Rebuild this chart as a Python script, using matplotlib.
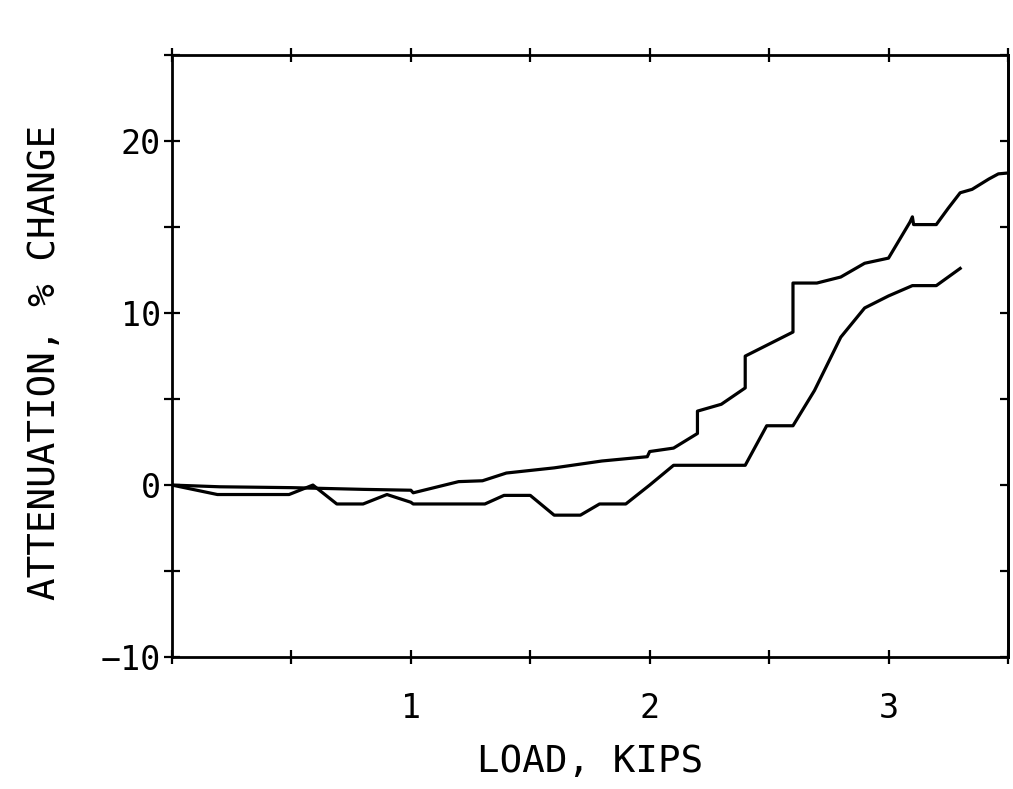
import matplotlib
matplotlib.use("Agg")
import matplotlib.pyplot as plt
from matplotlib.ticker import MultipleLocator, FuncFormatter

# Upper curve
load_upper = [0.0, 0.2, 0.5, 0.8, 1.0, 1.01, 1.2, 1.3, 1.4, 1.6, 1.8, 1.99, 2.0, 2.1,
              2.2, 2.2, 2.3, 2.4, 2.4, 2.6, 2.6, 2.7, 2.8, 2.9, 3.0, 3.09, 3.1, 3.105,
              3.2, 3.25, 3.3, 3.35, 3.42, 3.46, 3.5]
atten_upper = [0.0, -0.1, -0.15, -0.25, -0.3, -0.45, 0.2, 0.25, 0.7, 1.0, 1.4, 1.65, 1.95, 2.15,
               3.0, 4.3, 4.7, 5.65, 7.5, 8.9, 11.75, 11.75, 12.1, 12.9, 13.2, 15.3, 15.6, 15.15,
               15.15, 16.1, 17.0, 17.2, 17.8, 18.1, 18.15]

# Lower curve
load_lower = [0.0, 0.19, 0.49, 0.59, 0.69, 0.80, 0.90, 1.0, 1.01, 1.31, 1.39, 1.5, 1.6, 1.71,
              1.79, 1.9, 2.0, 2.1, 2.4, 2.49, 2.6, 2.69, 2.8, 2.9, 3.0, 3.1, 3.2, 3.3]
atten_lower = [0.0, -0.55, -0.55, 0.0, -1.1, -1.1, -0.55, -1.0, -1.1, -1.1, -0.6, -0.6, -1.75, -1.75,
               -1.1, -1.1, 0.0, 1.15, 1.15, 3.45, 3.45, 5.5, 8.6, 10.3, 11.0, 11.6, 11.6, 12.6]

x_labeled = [1, 2, 3]
y_labeled = [-10, 0, 10, 20]

FONT = "DejaVu Sans Mono"

fig = plt.figure(figsize=(10.13, 7.89), dpi=100)
ax = fig.add_axes([0.1698, 0.1673, 0.8252, 0.7627])

ax.plot(load_upper, atten_upper, color="black", lw=2.3, solid_joinstyle="round")
ax.plot(load_lower, atten_lower, color="black", lw=2.3, solid_joinstyle="round")

ax.set_xlim(0, 3.5)
ax.set_ylim(-10, 25)

ax.xaxis.set_major_locator(MultipleLocator(0.5))
ax.yaxis.set_major_locator(MultipleLocator(5))

def xfmt(v, pos):
    for t in x_labeled:
        if abs(v - t) < 1e-6:
            return str(t)
    return ""

def yfmt(v, pos):
    for t in y_labeled:
        if abs(v - t) < 1e-6:
            return ("\u2212" + str(-t)) if t < 0 else str(t)
    return ""

ax.xaxis.set_major_formatter(FuncFormatter(xfmt))
ax.yaxis.set_major_formatter(FuncFormatter(yfmt))

for sp in ax.spines.values():
    sp.set_linewidth(2.0)

ax.tick_params(axis="x", which="major", direction="inout", length=10, width=1.6,
               top=True, bottom=True, pad=20, labelsize=24)
ax.tick_params(axis="y", which="major", direction="inout", length=12, width=1.6,
               left=True, right=False, pad=2, labelsize=24)
for lab in ax.get_xticklabels() + ax.get_yticklabels():
    lab.set_family(FONT)

# right-side inward ticks
ax2 = ax.secondary_yaxis("right")
ax2.yaxis.set_major_locator(MultipleLocator(5))
ax2.tick_params(direction="in", length=6, width=1.6, labelright=False)
ax2.spines["right"].set_linewidth(2.0)

ax.set_xlabel("LOAD, KIPS", fontsize=27, family=FONT)
ax.set_ylabel("ATTENUATION, % CHANGE", fontsize=27, family=FONT)
ax.xaxis.set_label_coords(0.5, -0.145)
ax.yaxis.set_label_coords(-0.13, 0.49)

fig.savefig("out.png", dpi=100)
